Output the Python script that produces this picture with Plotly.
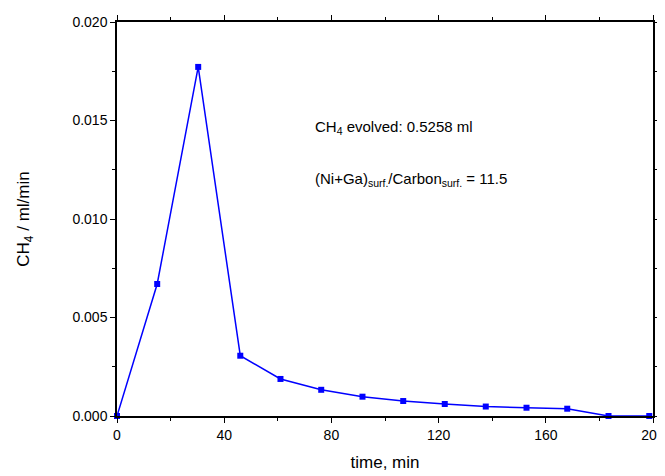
import plotly.graph_objects as go

time_min = [0, 15, 30.3, 46, 61, 76.2, 91.6, 106.8, 122.3, 137.6, 152.8, 168, 183.4, 198.6]
ch4_rate = [0.0, 0.0067, 0.01772, 0.00306, 0.00188, 0.00133, 0.00098, 0.00076, 0.00061, 0.00048, 0.00042, 0.00037, 0.0, 0.0]

x_ticks = [0, 40, 80, 120, 160, 200]
y_ticks = [0.0, 0.005, 0.010, 0.015, 0.020]
y_labels = ["0.000", "0.005", "0.010", "0.015", "0.020"]

FONT = "Liberation Sans, Arial, sans-serif"

fig = go.Figure()
fig.add_trace(go.Scatter(
    x=time_min, y=ch4_rate, mode="lines+markers",
    line=dict(color="#0000FF", width=1.5),
    marker=dict(symbol="square", size=6, color="#0000FF"),
    cliponaxis=False, showlegend=False,
))

axis_common = dict(
    showline=True, linecolor="black", linewidth=1.5, mirror="ticks",
    ticks="outside", ticklen=5, tickwidth=1, tickcolor="black",
    showgrid=False, zeroline=False, automargin=False,
    tickfont=dict(family=FONT, size=14, color="black"),
)

fig.update_xaxes(
    range=[0, 200], tickvals=x_ticks,
    minor=dict(dtick=20, ticks="outside", ticklen=3, tickcolor="black", showgrid=False),
    title=dict(text="time, min", font=dict(family=FONT, size=17, color="black"), standoff=15),
    **axis_common,
)
fig.update_yaxes(
    range=[0, 0.020], tickvals=y_ticks, ticktext=y_labels,
    minor=dict(dtick=0.0025, ticks="outside", ticklen=3, tickcolor="black", showgrid=False),
    title=dict(text="CH<sub>4</sub> / ml/min", font=dict(family=FONT, size=17, color="black"), standoff=38),
    **axis_common,
)

fig.add_annotation(x=0.366, y=0.733, xref="paper", yref="paper", xanchor="left", yanchor="middle",
                   text="CH<sub>4</sub> evolved: 0.5258 ml", showarrow=False,
                   font=dict(family=FONT, size=15, color="black"))
fig.add_annotation(x=0.366, y=0.60, xref="paper", yref="paper", xanchor="left", yanchor="middle",
                   text="(Ni+Ga)<sub>surf.</sub>/Carbon<sub>surf.</sub> = 11.5", showarrow=False,
                   font=dict(family=FONT, size=15, color="black"))

fig.update_layout(
    width=657, height=468,
    margin=dict(l=109, r=12, t=14, b=60),
    paper_bgcolor="white", plot_bgcolor="white",
    font=dict(family=FONT, color="black"),
)

fig.write_html("out.html")
